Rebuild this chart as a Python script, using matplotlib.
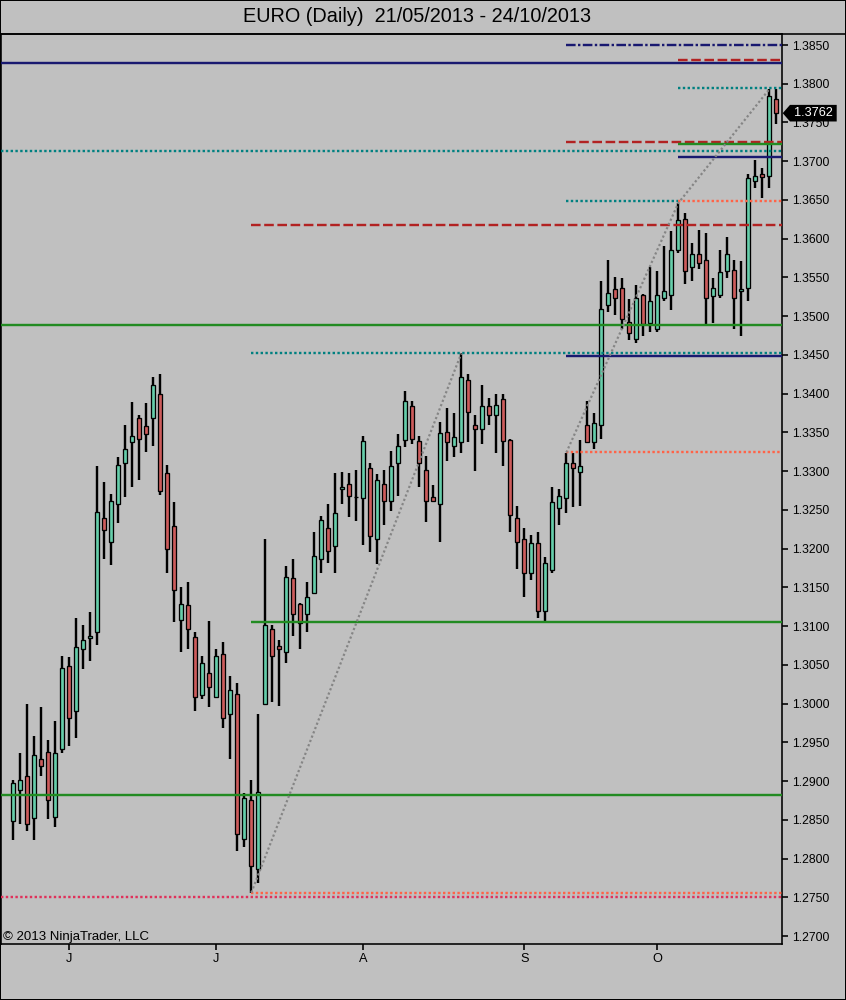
import matplotlib
matplotlib.use("Agg")
import matplotlib.pyplot as plt
import matplotlib.transforms as mtransforms
from matplotlib.lines import Line2D
from matplotlib.patches import Rectangle, Polygon
import numpy as np

plt.rcParams['font.family'] = ['Liberation Sans', 'DejaVu Sans']

# EURO daily OHLC, 21/05/2013 - 24/10/2013
opens = [1.2848, 1.2888, 1.2907, 1.2852, 1.2929, 1.2938, 1.2853, 1.2941, 1.3048, 1.2990,
         1.3071, 1.3084, 1.3093, 1.3239, 1.3208, 1.3257, 1.3310, 1.3337, 1.3368, 1.3358,
         1.3368, 1.3400, 1.3297, 1.3229, 1.3108, 1.3127, 1.3086, 1.3011, 1.3040, 1.3009,
         1.3064, 1.2986, 1.3013, 1.2825, 1.2875, 1.2787, 1.3000, 1.3096, 1.3074, 1.3066,
         1.3162, 1.3128, 1.3115, 1.3143, 1.3186, 1.3226, 1.3203, 1.3277, 1.3283, 1.3266,
         1.3265, 1.3304, 1.3212, 1.3283, 1.3262, 1.3310, 1.3340, 1.3384, 1.3339, 1.3301,
         1.3266, 1.3258, 1.3350, 1.3333, 1.3337, 1.3417, 1.3359, 1.3355, 1.3384, 1.3372,
         1.3393, 1.3340, 1.3240, 1.3212, 1.3168, 1.3207, 1.3119, 1.3172, 1.3253, 1.3265,
         1.3310, 1.3299, 1.3360, 1.3337, 1.3360, 1.3515, 1.3535, 1.3536, 1.3493, 1.3471,
         1.3527, 1.3491, 1.3484, 1.3524, 1.3527, 1.3585, 1.3625, 1.3563, 1.3580, 1.3572,
         1.3526, 1.3527, 1.3558, 1.3559, 1.3532, 1.3536, 1.3674, 1.3684, 1.3681, 1.3780]
highs = [1.2902, 1.2936, 1.2999, 1.2958, 1.2995, 1.2953, 1.2978, 1.3062, 1.3060, 1.3110,
         1.3102, 1.3118, 1.3306, 1.3286, 1.3270, 1.3318, 1.3360, 1.3389, 1.3372, 1.3388,
         1.3421, 1.3425, 1.3308, 1.3260, 1.3150, 1.3157, 1.3093, 1.3062, 1.3107, 1.3071,
         1.3079, 1.3035, 1.3026, 1.2884, 1.2901, 1.2987, 1.3212, 1.3102, 1.3082, 1.3177,
         1.3186, 1.3130, 1.3157, 1.3221, 1.3242, 1.3258, 1.3297, 1.3299, 1.3297, 1.3302,
         1.3346, 1.3311, 1.3296, 1.3302, 1.3326, 1.3348, 1.3403, 1.3391, 1.3345, 1.3319,
         1.3282, 1.3364, 1.3381, 1.3375, 1.3452, 1.3426, 1.3373, 1.3411, 1.3395, 1.3399,
         1.3399, 1.3342, 1.3255, 1.3226, 1.3218, 1.3222, 1.3189, 1.3279, 1.3277, 1.3324,
         1.3323, 1.3340, 1.3391, 1.3375, 1.3545, 1.3573, 1.3551, 1.3549, 1.3522, 1.3540,
         1.3528, 1.3564, 1.3558, 1.3590, 1.3610, 1.3646, 1.3633, 1.3594, 1.3611, 1.3608,
         1.3549, 1.3585, 1.3602, 1.3573, 1.3571, 1.3683, 1.3702, 1.3691, 1.3793, 1.3793]
lows = [1.2824, 1.2845, 1.2836, 1.2824, 1.2907, 1.2851, 1.2841, 1.2936, 1.2945, 1.2956,
        1.3044, 1.3055, 1.3076, 1.3187, 1.3179, 1.3233, 1.3267, 1.3280, 1.3288, 1.3325,
        1.3333, 1.3269, 1.3169, 1.3105, 1.3067, 1.3071, 1.2990, 1.3006, 1.2996, 1.3008,
        1.2969, 1.2928, 1.2810, 1.2815, 1.2756, 1.2769, 1.2999, 1.3002, 1.2997, 1.3053,
        1.3087, 1.3071, 1.3093, 1.3142, 1.3168, 1.3181, 1.3169, 1.3257, 1.3241, 1.3236,
        1.3205, 1.3195, 1.3180, 1.3231, 1.3249, 1.3268, 1.3331, 1.3335, 1.3280, 1.3235,
        1.3260, 1.3208, 1.3313, 1.3318, 1.3324, 1.3337, 1.3300, 1.3335, 1.3359, 1.3324,
        1.3306, 1.3221, 1.3174, 1.3138, 1.3159, 1.3111, 1.3106, 1.3168, 1.3231, 1.3246,
        1.3254, 1.3255, 1.3336, 1.3329, 1.3342, 1.3506, 1.3502, 1.3483, 1.3469, 1.3465,
        1.3475, 1.3479, 1.3479, 1.3519, 1.3508, 1.3581, 1.3542, 1.3546, 1.3561, 1.3488,
        1.3491, 1.3524, 1.3549, 1.3483, 1.3475, 1.3519, 1.3665, 1.3653, 1.3666, 1.3748]
closes = [1.2898, 1.2902, 1.2844, 1.2933, 1.2919, 1.2875, 1.2936, 1.3046, 1.2982, 1.3073,
          1.3082, 1.3087, 1.3247, 1.3224, 1.3261, 1.3308, 1.3329, 1.3345, 1.3341, 1.3348,
          1.3411, 1.3274, 1.3200, 1.3146, 1.3129, 1.3096, 1.3008, 1.3052, 1.3022, 1.3062,
          1.2981, 1.3017, 1.2832, 1.2878, 1.2790, 1.2886, 1.3101, 1.3062, 1.3070, 1.3163,
          1.3115, 1.3104, 1.3138, 1.3191, 1.3237, 1.3197, 1.3246, 1.3279, 1.3268, 1.3266,
          1.3339, 1.3216, 1.3288, 1.3261, 1.3306, 1.3333, 1.3390, 1.3341, 1.3311, 1.3261,
          1.3261, 1.3349, 1.3337, 1.3344, 1.3421, 1.3376, 1.3354, 1.3384, 1.3373, 1.3385,
          1.3339, 1.3243, 1.3208, 1.3168, 1.3207, 1.3119, 1.3181, 1.3260, 1.3268, 1.3310,
          1.3304, 1.3306, 1.3337, 1.3362, 1.3509, 1.3530, 1.3523, 1.3497, 1.3478, 1.3524,
          1.3490, 1.3520, 1.3527, 1.3532, 1.3585, 1.3624, 1.3558, 1.3580, 1.3568, 1.3524,
          1.3537, 1.3557, 1.3580, 1.3523, 1.3535, 1.3678, 1.3681, 1.3679, 1.3784, 1.3762]

month_ticks = [8, 29, 50, 73, 92]
month_labels = ['J', 'J', 'A', 'S', 'O']
price_ticks = np.arange(1.2700, 1.38501, 0.005)

# horizontal levels: price, start bar (None = whole chart), end bar (None = right edge)
level_prices = [1.3850, 1.3827, 1.3830, 1.3795, 1.3725, 1.3722, 1.3713, 1.3705, 1.3649, 1.3649,
                1.3618, 1.3488, 1.3452, 1.3449, 1.3325, 1.3105, 1.2882, 1.2756, 1.2751]
level_start = [79, None, 95, 95, 79, 95, None, 95, 79, 95,
               34, None, 34, 79, 79, 34, None, 34, None]
level_end = [None, None, None, None, None, None, None, None, 95, None,
             None, None, None, None, None, None, None, None, None]
level_colors = ['#191970', '#191970', '#B22222', '#008080', '#B22222', '#228B22', '#008080',
                '#191970', '#008080', '#FF6347', '#B22222', '#228B22', '#008080', '#191970',
                '#FF6347', '#228B22', '#228B22', '#FF6347', '#E0305A']
level_styles = ['dashdot', 'solid', 'dash', 'dot', 'dash', 'solid', 'dot', 'solid', 'dot', 'dot',
                'dash', 'solid', 'dot', 'solid', 'dot', 'solid', 'solid', 'dot', 'dot']

# swing lines (bar index, use high 'H' or low 'L')
swing_a = [(34, 'L'), (64, 'H')]
swing_b = [(79, 'H'), (95, 'H'), (108, 'H')]

BG = '#C0C0C0'
UP = '#66CDAA'
DOWN = '#CD5C5C'
PX = 72 / 100  # points per pixel

fig = plt.figure(figsize=(8.46, 10), dpi=100, facecolor=BG)
ax = fig.add_axes([1 / 846, 56 / 1000, 781 / 846, 910 / 1000], facecolor=BG)

n = len(opens)
x = np.arange(n)
o = np.array(opens)
c = np.array(closes)
up = c >= o

ax.vlines(x, lows, highs, color='black', linewidth=2.4 * PX, zorder=2)
ax.bar(x, np.abs(c - o), bottom=np.minimum(o, c), width=0.62,
       color=np.where(up, UP, DOWN), edgecolor='black', linewidth=1.3 * PX, zorder=3)

xmin, xmax = -1.757, 109.81
ymin, ymax = 1.26897, 1.38642
ax.set_xlim(xmin, xmax)
ax.set_ylim(ymin, ymax)

dash_map = {'dot': (1, 1), 'dash': (4, 1.5), 'dashdot': (4, 1, 1, 1)}
for p, s, e, col, st in zip(level_prices, level_start, level_end, level_colors, level_styles):
    x0 = xmin if s is None else s
    x1 = xmax if e is None else e
    ln, = ax.plot([x0, x1], [p, p], color=col, linewidth=2.4 * PX, zorder=4,
                  solid_capstyle='butt')
    if st != 'solid':
        ln.set_dashes(dash_map[st])

for sw in (swing_a, swing_b):
    xs = [b for b, k in sw]
    ys = [highs[b] if k == 'H' else lows[b] for b, k in sw]
    ln, = ax.plot(xs, ys, color='#858585', linewidth=2.2 * PX, zorder=5)
    ln.set_dashes((1, 1.1))

# axes styling
for side in ('left', 'right', 'bottom', 'top'):
    ax.spines[side].set_color('black')
    ax.spines[side].set_linewidth(1.6 * PX)
ax.yaxis.tick_right()
ax.set_yticks(price_ticks)
ax.set_yticklabels([f'{v:.4f}' for v in price_ticks])
ax.set_xticks(month_ticks)
ax.set_xticklabels(month_labels)
ax.tick_params(axis='y', direction='out', length=6 * PX, width=1.6 * PX, pad=3,
               labelsize=8.8, colors='black')
ax.tick_params(axis='x', direction='out', length=6 * PX, width=1.6 * PX, pad=2,
               labelsize=9.2, colors='black')

# last price tag
tr = mtransforms.blended_transform_factory(ax.transAxes, ax.transData)
px_per_unit = 910 / (ymax - ymin)
h = 8.3 / px_per_unit
last = closes[-1]
aw = 781.0
tag = Polygon([(1 + 0.7 / aw, last), (1 + 8 / aw, last + h), (1 + 54.7 / aw, last + h),
               (1 + 54.7 / aw, last - h), (1 + 8 / aw, last - h)],
              closed=True, transform=tr, facecolor='black', edgecolor='none',
              clip_on=False, zorder=10)
ax.add_patch(tag)
ax.text(1 + 31.5 / aw, last, f'{last:.4f}', transform=tr, color='white', fontsize=9.2,
        ha='center', va='center', zorder=11, clip_on=False)

# frame around the figure and line under the title
fig.add_artist(Rectangle((0, 0), 1, 1, transform=fig.transFigure, fill=False,
                         edgecolor='black', linewidth=2 * PX))
fig.add_artist(Line2D([0, 1], [1 - 34 / 1000, 1 - 34 / 1000], transform=fig.transFigure,
                      color='black', linewidth=1.6 * PX))

fig.text(417 / 846, 1 - 16 / 1000, 'EURO (Daily)  21/05/2013 - 24/10/2013',
         ha='center', va='center', fontsize=14.3, color='black')
fig.text(3 / 846, 1 - 940 / 1000, '\u00a9 2013 NinjaTrader, LLC',
         ha='left', va='baseline', fontsize=9.5, color='black')

fig.savefig('out.png', dpi=100, facecolor=BG)
